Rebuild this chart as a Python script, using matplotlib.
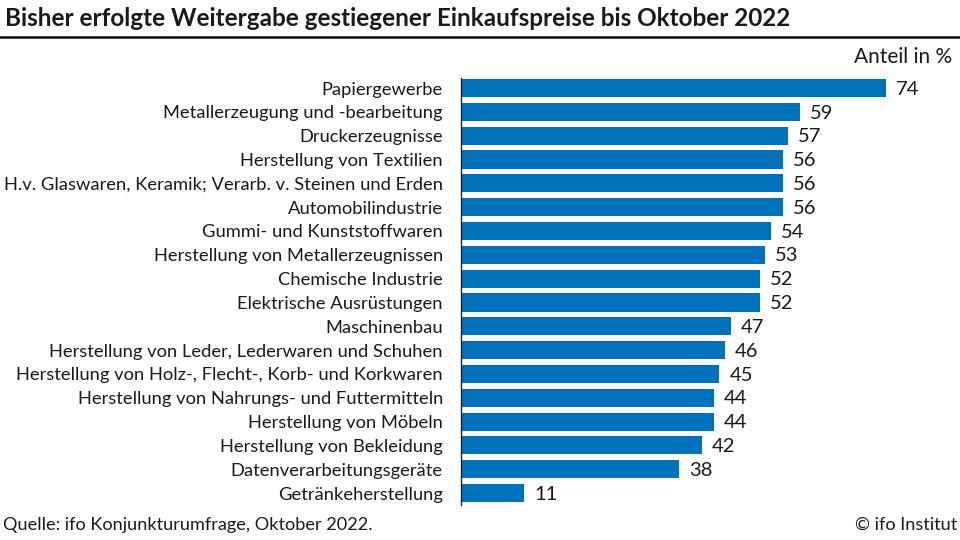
import matplotlib
matplotlib.use('Agg')
import matplotlib.pyplot as plt
from matplotlib.lines import Line2D

plt.rcParams['font.family'] = ['Lato', 'DejaVu Sans']

# Data
branchen = [
    'Papiergewerbe',
    'Metallerzeugung und -bearbeitung',
    'Druckerzeugnisse',
    'Herstellung von Textilien',
    'H.v. Glaswaren, Keramik; Verarb. v. Steinen und Erden',
    'Automobilindustrie',
    'Gummi- und Kunststoffwaren',
    'Herstellung von Metallerzeugnissen',
    'Chemische Industrie',
    'Elektrische Ausrüstungen',
    'Maschinenbau',
    'Herstellung von Leder, Lederwaren und Schuhen',
    'Herstellung von Holz-, Flecht-, Korb- und Korkwaren',
    'Herstellung von Nahrungs- und Futtermitteln',
    'Herstellung von Möbeln',
    'Herstellung von Bekleidung',
    'Datenverarbeitungsgeräte',
    'Getränkeherstellung',
]
anteil = [74, 59, 57, 56, 56, 56, 54, 53, 52, 52, 47, 46, 45, 44, 44, 42, 38, 11]

bar_color = '#0071BA'
text_color = '#1a1a1a'

fig = plt.figure(figsize=(9.6, 5.4), dpi=100)
ax = fig.add_axes([461 / 960, 35 / 540, 499 / 960, 427 / 540])

pos = list(range(len(branchen)))
ax.barh(pos, anteil, height=0.76, color=bar_color)
for p, v in zip(pos, anteil):
    ax.text(v + 1.75, p + 0.05, str(v), va='center', ha='left', fontsize=14.5, color=text_color)

ax.set_ylim(17.5, -0.42)
ax.set_xlim(0, 86.9)
ax.set_yticks(pos)
ax.set_yticklabels(branchen, fontsize=13.2, color=text_color)
ax.tick_params(axis='y', length=0, pad=13)
ax.set_xticks([])
for s in ['top', 'right', 'bottom']:
    ax.spines[s].set_visible(False)
ax.spines['left'].set_color('#222222')
ax.spines['left'].set_linewidth(1)

# Title and rule
fig.text(5 / 960, 1 - 18 / 540, 'Bisher erfolgte Weitergabe gestiegener Einkaufspreise bis Oktober 2022',
         fontsize=17.5, fontweight='bold', va='center', ha='left', color=text_color)
fig.add_artist(Line2D([0, 1], [1 - 37 / 540, 1 - 37 / 540], color='#111111', linewidth=1.8))

fig.text(952 / 960, 1 - 57 / 540, 'Anteil in %', fontsize=15, ha='right', va='center', color=text_color)

# Footer
fig.text(3 / 960, 1 - 525 / 540, 'Quelle: ifo Konjunkturumfrage, Oktober 2022.', fontsize=13.1,
         ha='left', va='center', color=text_color)
fig.text(957 / 960, 1 - 525 / 540, '© ifo Institut', fontsize=13.1, ha='right', va='center', color=text_color)

fig.savefig('out.png', dpi=100)
